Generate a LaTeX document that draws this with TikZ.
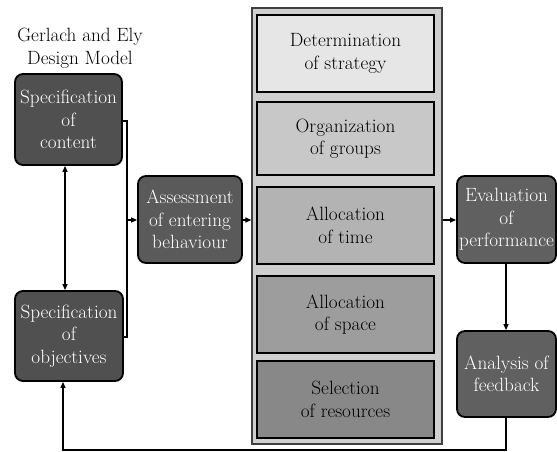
\documentclass[tikz,border=0pt]{standalone}
\usetikzlibrary{arrows.meta}
\definecolor{dkA}{HTML}{505050}
\definecolor{dkB}{HTML}{5A5A5A}
\definecolor{dkC}{HTML}{606060}
\definecolor{outerc}{HTML}{CFCFCF}
\definecolor{s1}{HTML}{E6E6E6}
\definecolor{s2}{HTML}{C8C8C8}
\definecolor{s3}{HTML}{B3B3B3}
\definecolor{s4}{HTML}{9D9D9D}
\definecolor{s5}{HTML}{888888}
\tikzset{
  txt/.style={font=\fontsize{19.2}{22.5}\selectfont, align=center},
  darkbox/.style={txt, draw=black, line width=1.8pt, rounded corners=8pt, text=white, inner sep=0pt},
  stepbox/.style={txt, draw=black, line width=1.8pt, inner sep=0pt, minimum width=177pt},
  conn/.style={line width=1.2pt, -{Triangle[length=6pt,width=5pt]}},
  plain/.style={line width=1.2pt},
}
\begin{document}
\begin{tikzpicture}[x=1pt,y=-1pt]
\useasboundingbox (0,0) rectangle (557,452);
\fill[white] (0,0) rectangle (557,452);

\node[txt] (title) at (80,48) {Gerlach and Ely\\Design Model};

\node[darkbox, fill=dkA, minimum width=107pt, minimum height=91pt] (content) at (68.5,119.5) {Specification\\of\\content};
\node[darkbox, fill=dkA, minimum width=108pt, minimum height=90pt] (object) at (69,336) {Specification\\of\\objectives};
\node[darkbox, fill=dkB, minimum width=104pt, minimum height=87pt] (assess) at (190,219.5) {Assessment\\of entering\\behaviour};

\node[draw=black!75, line width=1.3pt, fill=outerc, minimum width=190pt, minimum height=436pt, inner sep=0pt] (big) at (347,226) {};
\node[stepbox, fill=s1, minimum height=77pt] (st1) at (345.5,53.5) {Determination\\of strategy};
\node[stepbox, fill=s2, minimum height=73pt] (st2) at (345.5,138.5) {Organization\\of groups};
\node[stepbox, fill=s3, minimum height=77pt] (st3) at (345.5,225.5) {Allocation\\of time};
\node[stepbox, fill=s4, minimum height=77pt] (st4) at (345.5,314.5) {Allocation\\of space};
\node[stepbox, fill=s5, minimum height=77pt] (st5) at (345.5,399.5) {Selection\\of resources};

\node[darkbox, fill=dkC, minimum width=99pt, minimum height=87pt] (eval) at (506.5,219.5) {Evaluation\\of\\performance};
\node[darkbox, fill=dkC, minimum width=99pt, minimum height=86pt] (analysis) at (506.5,374) {Analysis of\\feedback};

\coordinate (jx) at (127,220);
\coordinate (fb1) at (506,450);
\coordinate (fb2) at (63,450);

\draw[line width=1.2pt, {Triangle[length=6pt,width=5pt]}-{Triangle[length=6pt,width=5pt]}] (content.south -| 65,0) -- (object.north -| 65,0);
\draw[plain] (content.east |- 0,121) -| (jx) |- (object.east |- 0,337);
\draw[conn] (jx) -- (jx -| assess.west);
\draw[conn] (assess.east |- 0,220) -- (big.west |- 0,220);
\draw[conn] (big.east |- 0,220) -- (eval.west |- 0,220);
\draw[conn] (eval.south -| 506,0) -- (analysis.north -| 506,0);
\draw[conn] (analysis.south -| fb1) -- (fb1) -- (fb2) -- (object.south -| fb2);
\end{tikzpicture}
\end{document}
